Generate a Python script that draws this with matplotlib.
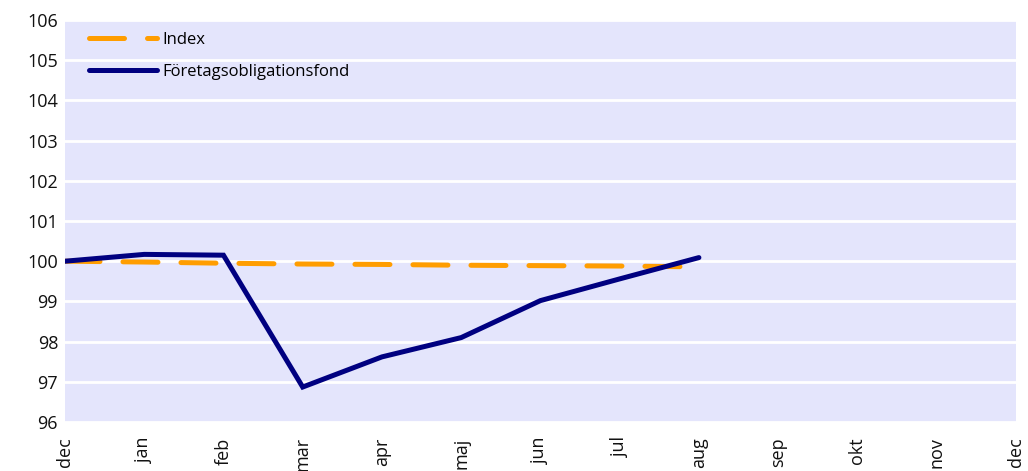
import matplotlib.pyplot as plt

months = ["dec", "jan", "feb", "mar", "apr", "maj", "jun", "jul", "aug",
          "sep", "okt", "nov", "dec"]
index_vals = [100.0, 99.98, 99.95, 99.93, 99.92, 99.90, 99.89, 99.88, 99.86]
fond_vals = [100.0, 100.17, 100.15, 96.87, 97.62, 98.10, 99.02, 99.56, 100.09]

plt.rcParams['font.family'] = ['Open Sans', 'DejaVu Sans']

fig = plt.figure(figsize=(10.28, 4.71), dpi=100)
ax = fig.add_axes([0.0632, 0.104, 0.925, 0.8535])
ax.set_facecolor('#E4E5FC')

ax.plot(range(len(index_vals)), index_vals, color='#FF9D00', lw=3.6,
        dashes=(7, 4.6), dash_capstyle='round', label='Index', zorder=3)
ax.plot(range(len(fond_vals)), fond_vals, color='#000080', lw=3.6,
        solid_capstyle='round', solid_joinstyle='miter',
        label='Företagsobligationsfond', zorder=4)

ax.set_xlim(0, len(months) - 1)
ax.set_ylim(96, 106)
ax.set_yticks(range(96, 107))
ax.set_xticks(range(len(months)))
ax.set_xticklabels(months, rotation=90, va='top', ha='center')
ax.tick_params(length=0, labelsize=13, colors='#111111')
ax.tick_params(axis='y', pad=5)
ax.tick_params(axis='x', pad=11)
for s in ax.spines.values():
    s.set_visible(False)
ax.grid(axis='y', color='white', lw=2)
ax.set_axisbelow(True)

ax.legend(loc='upper left', bbox_to_anchor=(0.009, 1.007), frameon=False,
          fontsize=12, handlelength=4.1, handletextpad=0.35, labelspacing=0.93)

fig.savefig('out.png', dpi=100)
